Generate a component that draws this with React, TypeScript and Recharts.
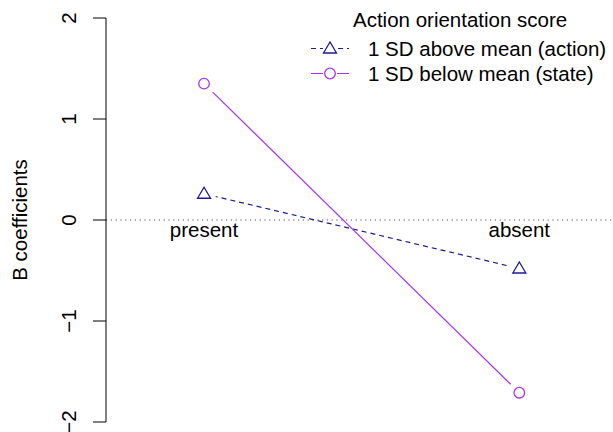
import { Line, LineChart, ReferenceDot, ReferenceLine, XAxis, YAxis } from "recharts";

const conditions = ["present", "absent"];
const conditionX = [1, 2];
const actionValues = [0.26, -0.48];
const stateValues = [1.35, -1.71];
const yTicks = [-2, -1, 0, 1, 2];

const legendTitle = "Action orientation score";
const actionLabel = "1 SD above mean (action)";
const stateLabel = "1 SD below mean (state)";

const NAVY = "#1c1c96";
const PURPLE = "#a535f0";
const FONT = "'Liberation Sans', Arial, Helvetica, sans-serif";
const FS = 20.5;

const data = conditions.map((name, i) => ({
  name,
  x: conditionX[i],
  action: actionValues[i],
  state: stateValues[i],
}));

const Triangle = (props: any) => {
  const { cx, cy } = props;
  if (cx == null || cy == null) return null;
  return (
    <g>
      <circle cx={cx} cy={cy} r={12} fill="#fff" />
      <polygon
        points={`${cx - 6.5},${cy + 4.5} ${cx + 6.5},${cy + 4.5} ${cx},${cy - 6.5}`}
        fill="none"
        stroke={NAVY}
        strokeWidth={1.3}
      />
    </g>
  );
};

const Circle = (props: any) => {
  const { cx, cy } = props;
  if (cx == null || cy == null) return null;
  return (
    <g>
      <circle cx={cx} cy={cy} r={12} fill="#fff" />
      <circle cx={cx} cy={cy} r={5.3} fill="none" stroke={PURPLE} strokeWidth={1.3} />
    </g>
  );
};

const YTick = (props: any) => {
  const { x, y, payload } = props;
  const v = payload.value;
  const text = v < 0 ? `\u2212${Math.abs(v)}` : `${v}`;
  return (
    <text
      x={x - 23}
      y={y}
      transform={`rotate(-90 ${x - 23} ${y})`}
      textAnchor="middle"
      dominantBaseline="central"
      fontFamily={FONT}
      fontSize={FS}
      fill="#000"
    >
      {text}
    </text>
  );
};

const ConditionLabel = (props: any) => {
  const { viewBox, value } = props;
  const cx = viewBox.x + (viewBox.width || 0) / 2;
  const cy = viewBox.y + (viewBox.height || 0) / 2;
  return (
    <text
      x={cx}
      y={cy + 17}
      textAnchor="middle"
      fontFamily={FONT}
      fontSize={FS}
      fill="#000"
    >
      {value}
    </text>
  );
};

export default function App() {
  return (
    <div style={{ position: "relative", width: 613, height: 432, background: "#fff" }}>
      <style>{`body { margin: 0; }`}</style>
      <LineChart
        width={613}
        height={432}
        data={data}
        margin={{ top: 18, right: 1, bottom: 10, left: 0 }}
      >
        <XAxis dataKey="x" type="number" domain={[0.689, 2.294]} hide />
        <YAxis
          domain={[-2, 2]}
          ticks={yTicks}
          width={106}
          tickSize={13}
          tick={<YTick />}
          axisLine={{ stroke: "#000", strokeWidth: 1 }}
          tickLine={{ stroke: "#000", strokeWidth: 1 }}
          label={{
            value: "B coefficients",
            angle: -90,
            position: "insideLeft",
            content: () => (
              <text
                x={19}
                y={220}
                transform="rotate(-90 19 220)"
                textAnchor="middle"
                dominantBaseline="central"
                fontFamily={FONT}
                fontSize={FS}
                fill="#000"
              >
                B coefficients
              </text>
            ),
          }}
        />
        <ReferenceLine y={0} stroke="#555" strokeWidth={1} strokeDasharray="1.2 3.6" />
        {conditions.map((c, i) => (
          <ReferenceDot
            key={c}
            x={conditionX[i]}
            y={0}
            r={0}
            fill="none"
            stroke="none"
            label={<ConditionLabel value={c} />}
          />
        ))}
        <Line
          dataKey="action"
          stroke={NAVY}
          strokeWidth={1.2}
          strokeDasharray="5 4"
          dot={<Triangle />}
          activeDot={false}
          isAnimationActive={false}
        />
        <Line
          dataKey="state"
          stroke={PURPLE}
          strokeWidth={1.2}
          dot={<Circle />}
          activeDot={false}
          isAnimationActive={false}
        />
      </LineChart>
      <div
        style={{
          position: "absolute",
          left: 300,
          top: 7,
          fontFamily: FONT,
          fontSize: FS,
          color: "#000",
          lineHeight: "26px",
        }}
      >
        <div style={{ marginLeft: 53, height: 29 }}>{legendTitle}</div>
        {[
          { label: actionLabel, color: NAVY, dash: "5 4", shape: "tri" },
          { label: stateLabel, color: PURPLE, dash: undefined, shape: "circ" },
        ].map((it) => (
          <div key={it.label} style={{ display: "flex", alignItems: "center", height: 25 }}>
            <svg width={68} height={25} style={{ display: "block" }}>
              <line
                x1={11}
                x2={49}
                y1={12.5}
                y2={12.5}
                stroke={it.color}
                strokeWidth={1.2}
                strokeDasharray={it.dash}
              />
              <rect x={23} y={4} width={14} height={17} fill="#fff" />
              {it.shape === "tri" ? (
                <polygon
                  points="23.5,17 36.5,17 30,6"
                  fill="none"
                  stroke={it.color}
                  strokeWidth={1.3}
                />
              ) : (
                <circle cx={30} cy={12.5} r={5.3} fill="none" stroke={it.color} strokeWidth={1.3} />
              )}
            </svg>
            <span>{it.label}</span>
          </div>
        ))}
      </div>
    </div>
  );
}
